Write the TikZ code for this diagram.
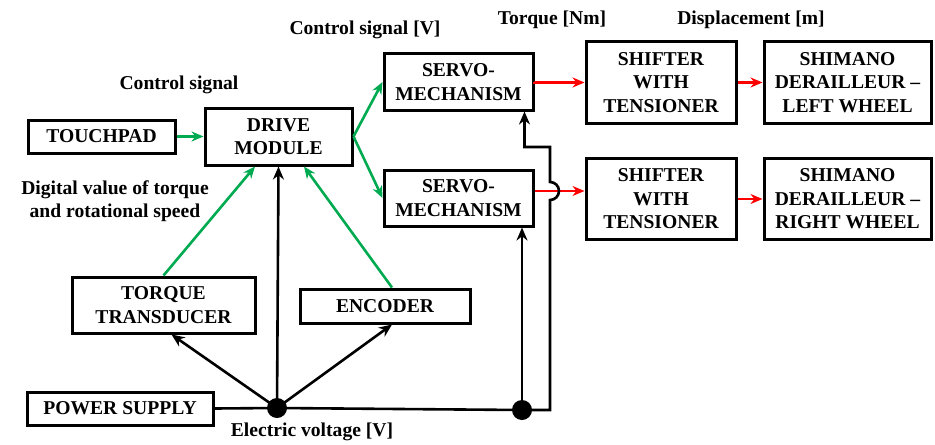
\documentclass[tikz,border=0pt]{standalone}
\usepackage{fontspec}
\setmainfont{Liberation Serif}
\usetikzlibrary{arrows.meta,calc}

\begin{document}
\begin{tikzpicture}[x=0.5pt,y=-0.5pt,
  blk/.style={draw,line width=1.5pt,align=center,inner sep=1pt,
    font=\fontsize{9.8}{11.8}\selectfont\bfseries},
  lbl/.style={align=center,font=\fontsize{9.8}{11.8}\selectfont\bfseries},
  sig/.style={line width=1.3pt,draw={rgb,255:red,0;green,170;blue,80},-{Stealth[length=6pt,width=5pt]}},
  trq/.style={line width=1.3pt,draw=red,-{Stealth[length=6pt,width=5pt]}},
  pwr/.style={line width=1.3pt,-{Stealth[length=6.5pt,width=5.5pt]}}]
\useasboundingbox (0,0) rectangle (935,444);
% blocks
\node[blk,minimum width=73.5pt,minimum height=16.5pt] (touch) at (101.5,136.5) {TOUCHPAD};
\node[blk,minimum width=73.5pt,minimum height=28.5pt] (drive) at (278.5,136.5) {DRIVE\\MODULE};
\node[blk,minimum width=74.5pt,minimum height=28pt] (servoA) at (458.5,82) {SERVO-\\MECHANISM};
\node[blk,minimum width=74.5pt,minimum height=28pt] (servoB) at (458.5,198) {SERVO-\\MECHANISM};
\node[blk,minimum width=75pt,minimum height=40.5pt] (shiftA) at (661,82.5) {SHIFTER\\WITH\\TENSIONER};
\node[blk,minimum width=75pt,minimum height=40.5pt] (shiftB) at (661,199) {SHIFTER\\WITH\\TENSIONER};
\node[blk,minimum width=83.5pt,minimum height=40.5pt] (shimA) at (847.5,82.5) {SHIMANO\\DERAILLEUR --\\LEFT WHEEL};
\node[blk,minimum width=83.5pt,minimum height=40.5pt] (shimB) at (847.5,199) {SHIMANO\\DERAILLEUR --\\RIGHT WHEEL};
\node[blk,minimum width=91.5pt,minimum height=28pt] (trans) at (163.5,305) {TORQUE\\TRANSDUCER};
\node[blk,minimum width=85pt,minimum height=17pt] (enc) at (385,306) {ENCODER};
\node[blk,minimum width=93pt,minimum height=16.5pt] (power) at (120,408.5) {POWER SUPPLY};
% junctions
\fill (277,408) circle (5pt) coordinate (dotA);
\fill (522,410) circle (5pt) coordinate (dotB);
% labels
\node[lbl] (csig) at (179,85) {Control signal};
\node[lbl] (csigv) at (365,30) {Control signal [V]};
\node[lbl] (torq) at (552,20) {Torque [Nm]};
\node[lbl] (disp) at (751,20) {Displacement [m]};
\node[lbl] (digi) at (115,201) {Digital value of torque\\and rotational speed};
\node[lbl] (volt) at (312,432) {Electric voltage [V]};
% control signals
\draw[sig] (touch) -- (drive);
\draw[sig] (drive.east) -- (servoA.west);
\draw[sig] (drive.east) -- (servoB.west);
\draw[sig] (trans.north) -- ($(drive.south)+(-23.5,0)$);
\draw[sig] ($(enc.north)+(7,0)$) -- ($(drive.south)+(25.5,0)$);
% torque and displacement
\draw[trq] (servoA.east) -- (shiftA.west -| servoA.east) -- (shiftA.west);
\draw[trq] ([yshift=3.5pt]servoB.east) -- ([yshift=3.5pt]servoB.east -| shiftB.west);
\draw[trq] (shiftA) -- (shimA);
\draw[trq] (shiftB) -- (shimB);
% supply
\draw[line width=1.3pt] (power.east) -- (dotA) -- (dotB);
\draw[pwr] (dotA) -- (drive.south);
\draw[pwr] (dotA) -- ($(trans.south)+(8,0)$);
\draw[pwr] (dotA) -- ($(enc.south)+(7,0)$);
\draw[pwr] (dotB) -- (dotB |- servoB.south);
\coordinate (rt) at ($(dotB)+(28,0)$);
\draw[pwr] (dotB) -- (rt) -- ($(rt |- servoB.east)+(0,2)$)
  arc[start angle=-90,end angle=90,radius=4.5pt]
  -- ($(rt)+(0,-263)$) -| ($(servoA.south)+(66,0)$);
\end{tikzpicture}
\end{document}
